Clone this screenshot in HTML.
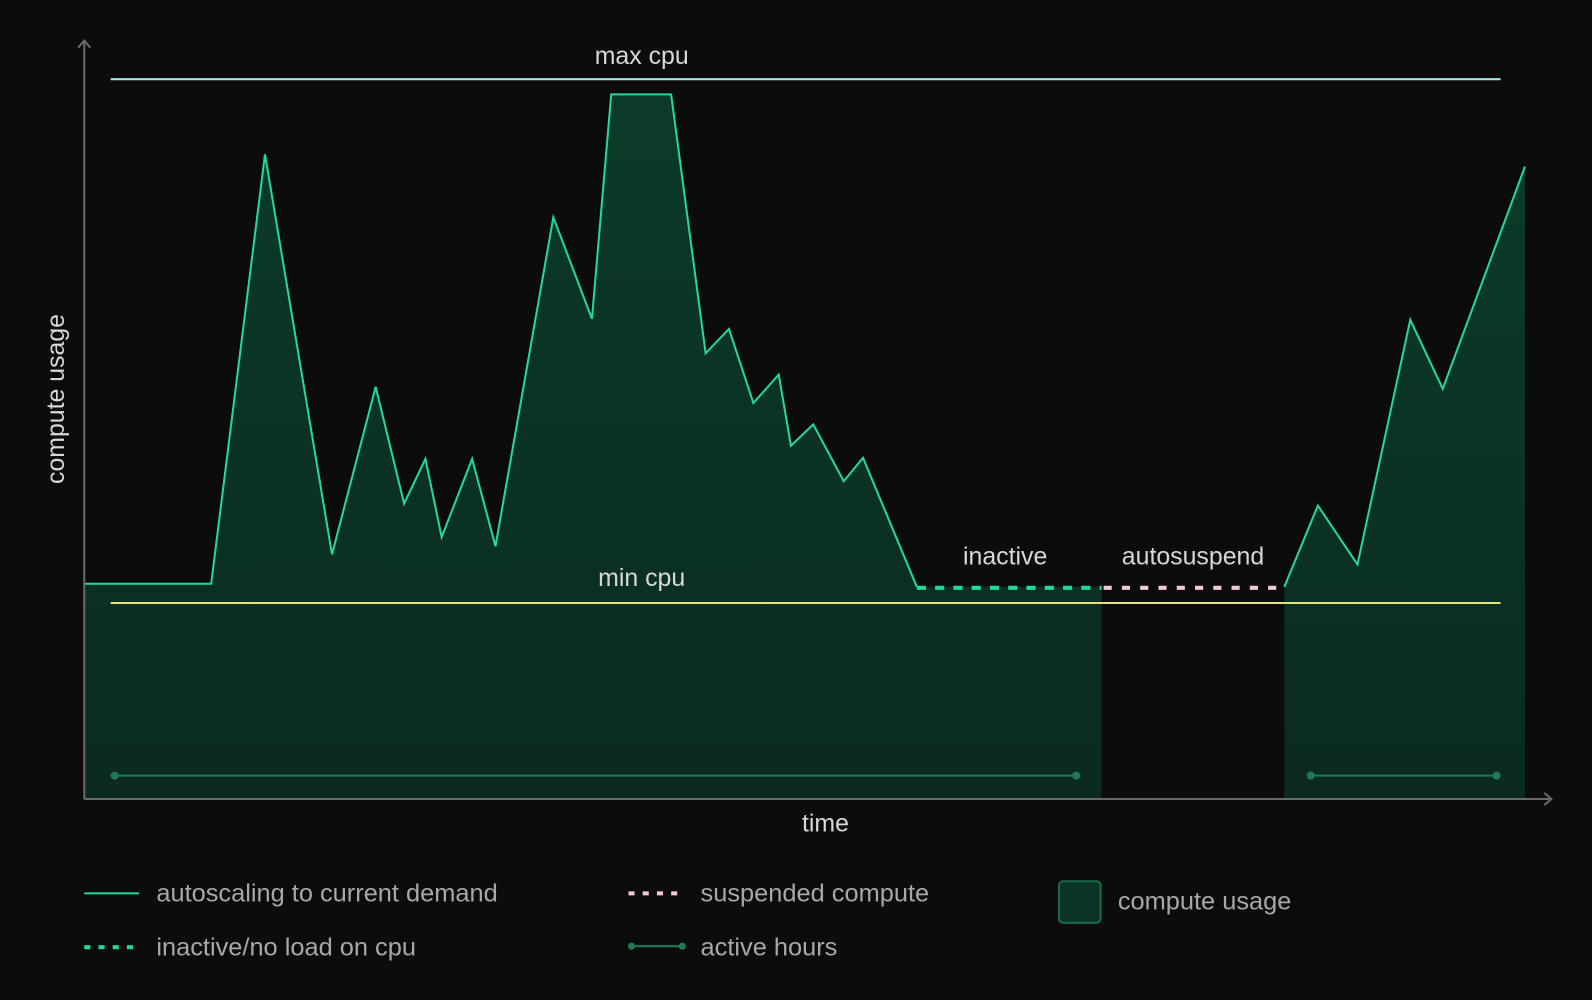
<!DOCTYPE html>
<html><head><meta charset="utf-8"><style>
html,body{margin:0;padding:0;background:#0c0c0c;}
svg{display:block}
text{font-family:"Liberation Sans",sans-serif;fill:#d8d8d8;}
</style></head><body>
<svg width="1592" height="1000" viewBox="0 0 1568 985" preserveAspectRatio="none">
<rect width="1568" height="985" fill="#0c0c0c"/>
<defs><linearGradient id="g" x1="0" y1="0" x2="0" y2="1"><stop offset="0" stop-color="#0b3b2a"/><stop offset="1" stop-color="#0b2a20"/></linearGradient></defs>
<path d="M83,575 L208,575 L261,152 L327,546 L370,381 L398,496 L419,452 L435,529 L465,452 L488,538 L545,214 L583,314 L602,93 L661,93 L695,348 L718,324 L742,397 L767,369 L779,439 L801,418 L831,474 L850,451 L903,578 L1085,578 L1085,787 L83,787 Z" fill="url(#g)"/>
<path d="M1265,578 L1298,498 L1337,556 L1389,315 L1421,383 L1502,164 L1502,787 L1265,787 Z" fill="url(#g)"/>
<polyline points="83,575 208,575 261,152 327,546 370,381 398,496 419,452 435,529 465,452 488,538 545,214 583,314 602,93 661,93 695,348 718,324 742,397 767,369 779,439 801,418 831,474 850,451 903,578" fill="none" stroke="#22d99a" stroke-width="2"/>
<polyline points="1265,578 1298,498 1337,556 1389,315 1421,383 1502,164" fill="none" stroke="#22d99a" stroke-width="2"/>
<line x1="903" y1="579" x2="1085" y2="579" stroke="#22d99a" stroke-width="4" stroke-dasharray="9,9"/>
<line x1="1087" y1="579" x2="1265" y2="579" stroke="#f5c6d4" stroke-width="4" stroke-dasharray="8,10"/>
<line x1="109" y1="78" x2="1478" y2="78" stroke="#a8e6e0" stroke-width="2"/>
<line x1="109" y1="594" x2="1478" y2="594" stroke="#e6e07a" stroke-width="2"/>
<line x1="113" y1="764" x2="1060" y2="764" stroke="#1f7a55" stroke-width="2"/>
<circle cx="113" cy="764" r="4" fill="#1f7a55"/><circle cx="1060" cy="764" r="4" fill="#1f7a55"/>
<line x1="1291" y1="764" x2="1474" y2="764" stroke="#1f7a55" stroke-width="2"/>
<circle cx="1291" cy="764" r="4" fill="#1f7a55"/><circle cx="1474" cy="764" r="4" fill="#1f7a55"/>
<line x1="83" y1="787" x2="83" y2="40" stroke="#6a6a6a" stroke-width="2"/>
<polyline points="77,47 83,40 89,47" fill="none" stroke="#6a6a6a" stroke-width="2"/>
<line x1="83" y1="787" x2="1528" y2="787" stroke="#6a6a6a" stroke-width="2"/>
<polyline points="1521,781 1528,787 1521,793" fill="none" stroke="#6a6a6a" stroke-width="2"/>
<g font-size="24.5" text-anchor="middle">
<text x="632" y="63">max cpu</text>
<text x="632" y="577">min cpu</text>
<text x="990" y="556">inactive</text>
<text x="1175" y="556">autosuspend</text>
<text x="813" y="819">time</text>
<text transform="translate(63,393) rotate(-90)">compute usage</text>
</g>
<g font-size="25" style="fill:#a8a8a8">
<line x1="83" y1="880" x2="137" y2="880" stroke="#22d99a" stroke-width="2"/>
<text x="154" y="888" style="fill:#a8a8a8">autoscaling to current demand</text>
<line x1="83" y1="933" x2="137" y2="933" stroke="#22d99a" stroke-width="4" stroke-dasharray="6,8"/>
<text x="154" y="941" style="fill:#a8a8a8">inactive/no load on cpu</text>
<line x1="619" y1="880" x2="673" y2="880" stroke="#f5c6d4" stroke-width="4" stroke-dasharray="6,8"/>
<text x="690" y="888" style="fill:#a8a8a8">suspended compute</text>
<line x1="622" y1="932" x2="672" y2="932" stroke="#1f7a55" stroke-width="2"/>
<circle cx="622" cy="932" r="3.5" fill="#1f7a55"/><circle cx="672" cy="932" r="3.5" fill="#1f7a55"/>
<text x="690" y="941" style="fill:#a8a8a8">active hours</text>
<rect x="1043" y="868" width="41" height="41" rx="4" fill="#0b3526" stroke="#1a6a4a" stroke-width="2"/>
<text x="1101" y="896" style="fill:#a8a8a8">compute usage</text>
</g>
</svg>
</body></html>
